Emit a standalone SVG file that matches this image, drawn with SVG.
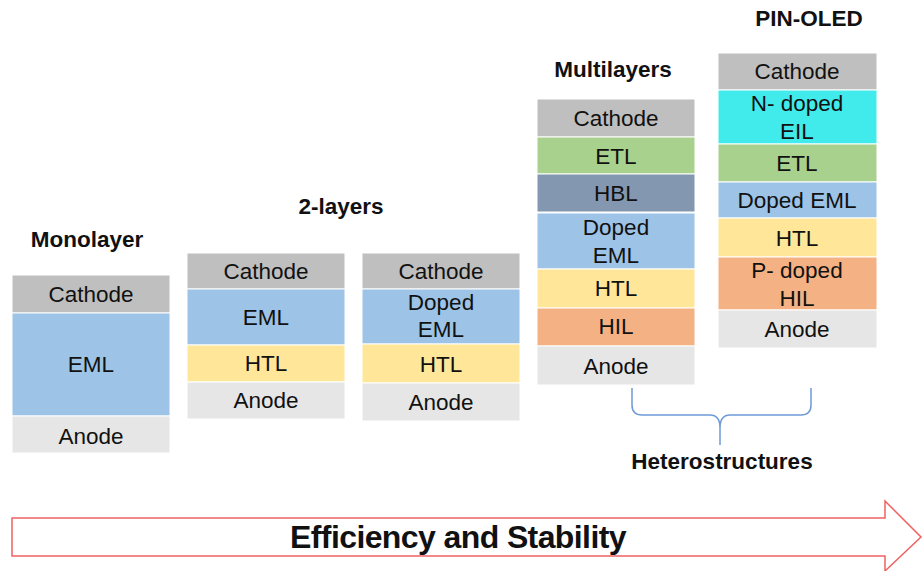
<svg xmlns="http://www.w3.org/2000/svg" width="923" height="571" viewBox="0 0 923 571">
<style>
rect{stroke:#fff;stroke-width:1}
.cat{fill:#BFBFBF}.eml{fill:#9DC3E6}.htl{fill:#FFE699}.ano{fill:#E6E6E6}.etl{fill:#A9D18E}.hbl{fill:#8497B0}.hil{fill:#F4B183}.eil{fill:#42EBEB}
text{font-family:"Liberation Sans",Arial,sans-serif;text-anchor:middle;fill:#111}
.l{font-size:22.5px}
.t{font-size:22.5px;font-weight:bold}
</style>
<rect width="923" height="571" fill="#fff" stroke="none"/>
<g id="monolayer">
<text class="t" x="87" y="247">Monolayer</text>
<rect class="cat" x="12" y="275" width="158" height="38"/>
<rect class="eml" x="12" y="313" width="158" height="103"/>
<rect class="ano" x="12" y="416" width="158" height="37"/>
<text class="l" x="91" y="302">Cathode</text>
<text class="l" x="91" y="372">EML</text>
<text class="l" x="91" y="444">Anode</text>
</g>
<g id="two-layers-title"><text class="t" x="341" y="214">2-layers</text></g>
<g id="two-layers-a">
<rect class="cat" x="187" y="253" width="158" height="36"/>
<rect class="eml" x="187" y="289" width="158" height="56"/>
<rect class="htl" x="187" y="345" width="158" height="37"/>
<rect class="ano" x="187" y="382" width="158" height="37"/>
<text class="l" x="266" y="279">Cathode</text>
<text class="l" x="266" y="325">EML</text>
<text class="l" x="266" y="371">HTL</text>
<text class="l" x="266" y="408">Anode</text>
</g>
<g id="two-layers-b">
<rect class="cat" x="362" y="253" width="158" height="36"/>
<rect class="eml" x="362" y="289" width="158" height="55"/>
<rect class="htl" x="362" y="344" width="158" height="39"/>
<rect class="ano" x="362" y="383" width="158" height="38"/>
<text class="l" x="441" y="279">Cathode</text>
<text class="l" x="441" y="310">Doped</text>
<text class="l" x="441" y="337">EML</text>
<text class="l" x="441" y="372">HTL</text>
<text class="l" x="441" y="410">Anode</text>
</g>
<g id="multilayers">
<text class="t" x="613" y="77">Multilayers</text>
<rect class="cat" x="537" y="99" width="158" height="38"/>
<rect class="etl" x="537" y="137" width="158" height="37"/>
<rect class="hbl" x="537" y="174" width="158" height="38"/>
<rect class="eml" x="537" y="213" width="158" height="56"/>
<rect class="htl" x="537" y="269" width="158" height="39"/>
<rect class="hil" x="537" y="308" width="158" height="38"/>
<rect class="ano" x="537" y="346" width="158" height="39"/>
<text class="l" x="616" y="126">Cathode</text>
<text class="l" x="616" y="164">ETL</text>
<text class="l" x="616" y="201">HBL</text>
<text class="l" x="616" y="235">Doped</text>
<text class="l" x="616" y="263">EML</text>
<text class="l" x="616" y="296">HTL</text>
<text class="l" x="616" y="334">HIL</text>
<text class="l" x="616" y="374">Anode</text>
</g>
<g id="pin-oled">
<text class="t" x="809" y="26">PIN-OLED</text>
<rect class="cat" x="718" y="53" width="159" height="37"/>
<rect class="eil" x="718" y="90" width="159" height="54"/>
<rect class="etl" x="718" y="144" width="159" height="38"/>
<rect class="eml" x="718" y="182" width="159" height="36"/>
<rect class="htl" x="718" y="218" width="159" height="39"/>
<rect class="hil" x="718" y="257" width="159" height="53"/>
<rect class="ano" x="718" y="310" width="159" height="38"/>
<text class="l" x="797" y="79">Cathode</text>
<text class="l" x="797" y="111">N- doped</text>
<text class="l" x="797" y="139">EIL</text>
<text class="l" x="797" y="171">ETL</text>
<text class="l" x="797" y="208">Doped EML</text>
<text class="l" x="797" y="246">HTL</text>
<text class="l" x="797" y="278">P- doped</text>
<text class="l" x="797" y="306">HIL</text>
<text class="l" x="797" y="337">Anode</text>
</g>
<g id="connectors">
<path d="M632,388 L632,405 Q632,415 642,415 L710,415 Q720,415 720,428 L720,445 M720,428 Q720,415 730,415 L801,415 Q811,415 811,405 L811,388" fill="none" stroke="#6F9BD9" stroke-width="1.5"/>
</g>
<g id="heterostructures"><text class="t" x="722" y="469">Heterostructures</text></g>
<g id="arrow">
<path d="M12,518 L885,518 L885,501 L921,537 L885,571 L885,556 L12,556 Z" fill="#fff" stroke="#F06262" stroke-width="1.5"/>
<text x="458" y="548" style="font-size:32px;font-weight:bold;letter-spacing:-0.6px">Efficiency and Stability</text>
</g>
</svg>
